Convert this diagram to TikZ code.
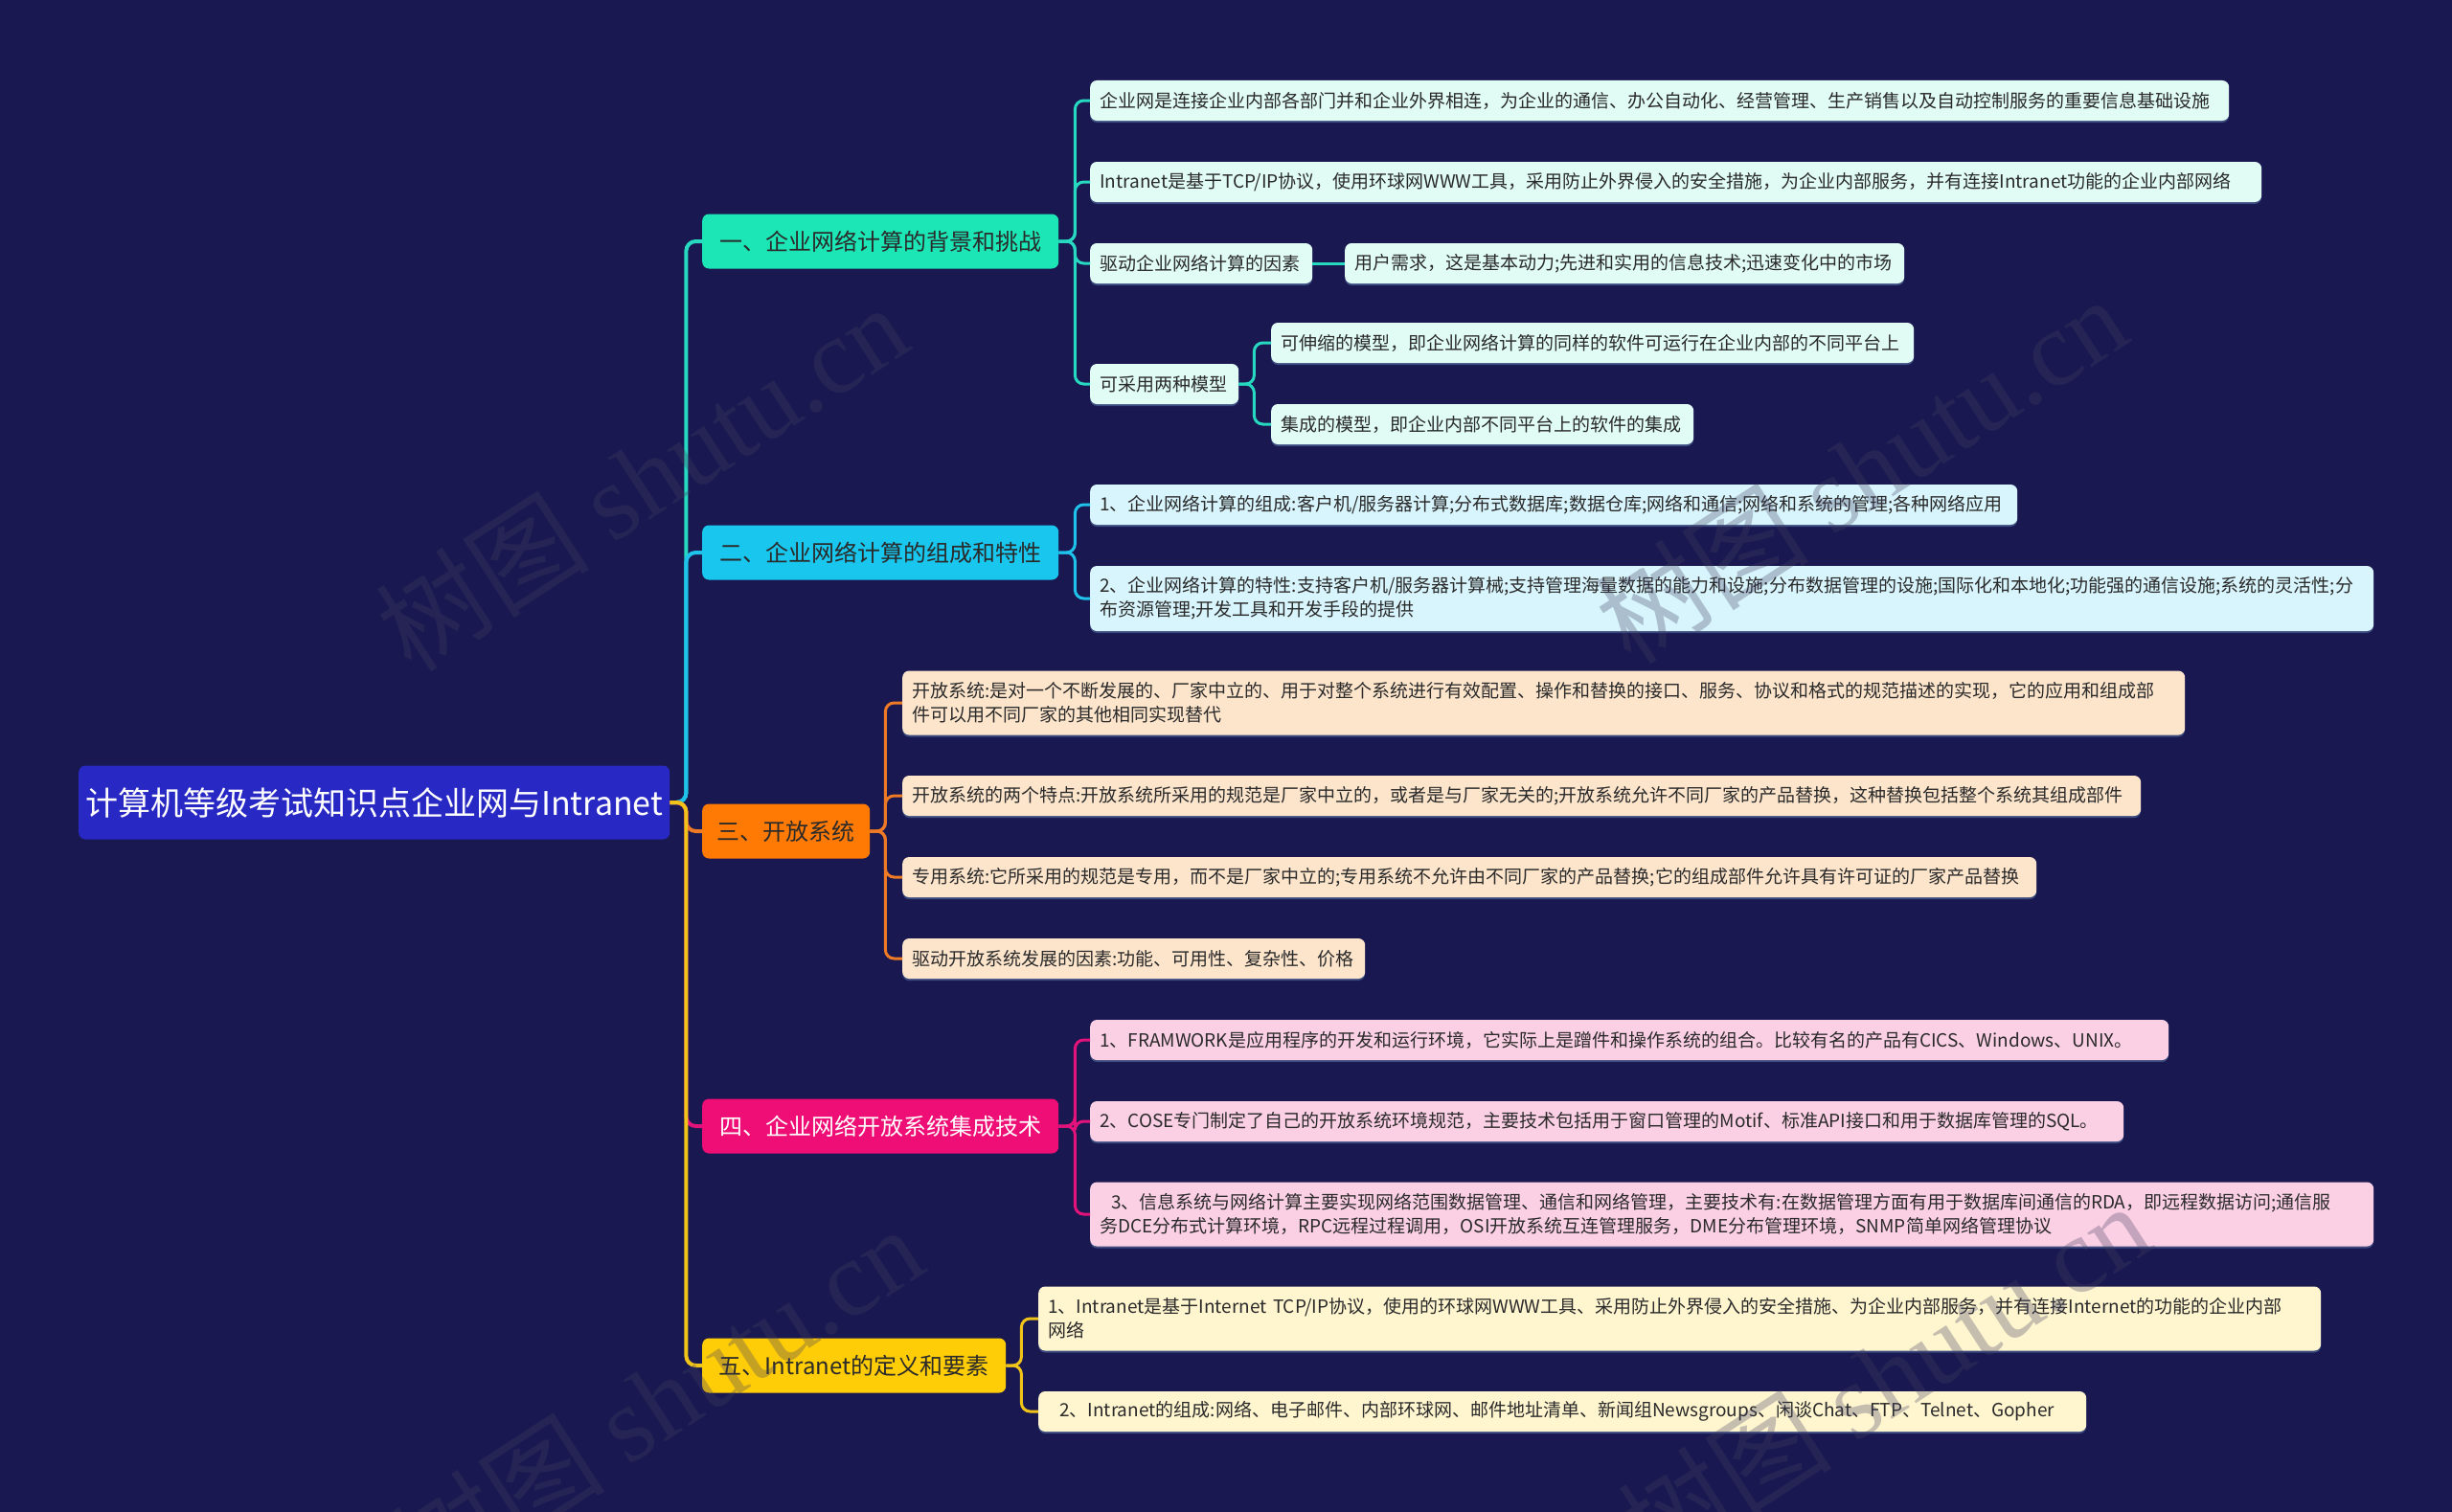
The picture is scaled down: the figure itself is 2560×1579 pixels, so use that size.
\documentclass[tikz,border=0pt]{standalone}
\usepackage{fontspec}
\setmainfont{Noto Sans CJK SC}
\newfontfamily\wmlatin{Liberation Serif}
\definecolor{bg}{HTML}{1A1850}
\definecolor{rootc}{HTML}{2828C4}
\definecolor{fa}{HTML}{1CE6B6}
\definecolor{fb}{HTML}{18C6EE}
\definecolor{fc}{HTML}{FF7A05}
\definecolor{fd}{HTML}{EE0E76}
\definecolor{fe}{HTML}{FFCC08}
\definecolor{la}{HTML}{26D9C0}
\definecolor{lb}{HTML}{1EC2EA}
\definecolor{lc}{HTML}{EE7A26}
\definecolor{ld}{HTML}{E2137A}
\definecolor{le}{HTML}{F1C41A}
\definecolor{sa}{HTML}{E0FCF5}
\definecolor{sb}{HTML}{D8F5FD}
\definecolor{sc}{HTML}{FDE5CC}
\definecolor{sd}{HTML}{FCD0E4}
\definecolor{se}{HTML}{FFF5CF}
\definecolor{txt}{HTML}{2A2A2A}
\definecolor{wmc}{HTML}{404062}
\definecolor{shd}{HTML}{3C4C80}
\begin{document}
\begin{tikzpicture}[x=1pt,y=-1pt,
  basebox/.style={rounded corners=7pt, inner ysep=0pt, anchor=west},
  rootbox/.style={basebox, fill=rootc, text=white, minimum height=77pt, minimum width=617pt,
    font=\fontsize{34}{40}\selectfont},
  lone/.style={basebox, minimum height=57pt, inner xsep=0pt, text=txt,
    font=\fontsize{24}{30}\selectfont},
  ltwo/.style={basebox, minimum height=42pt, inner xsep=10pt, text=txt, align=left,
    font=\fontsize{19}{25}\selectfont,
    preaction={fill=shd, transform canvas={yshift=-2pt}}},
  cone/.style={line width=4pt, rounded corners=10pt},
  ctwo/.style={line width=3pt, rounded corners=9pt},
  wm/.style={text=wmc, opacity=0.3, rotate=33, font=\fontsize{112}{112}\selectfont}
]
\fill[bg] (0,0) rectangle (2560,1579);
\useasboundingbox (0,0) rectangle (2560,1579);

% root
\node[rootbox] (root) at (82,838) {计算机等级考试知识点企业网与Intranet};

% level one
\node[lone, fill=fa, minimum width=372pt] (n1) at (733,252) {一、企业网络计算的背景和挑战};
\node[lone, fill=fb, minimum width=372pt] (n2) at (733,577) {二、企业网络计算的组成和特性};
\node[lone, fill=fc, minimum width=175pt] (n3) at (733,868) {三、开放系统};
\node[lone, fill=fd, minimum width=372pt, text=white] (n4) at (733,1176) {四、企业网络开放系统集成技术};
\node[lone, fill=fe, minimum width=317pt] (n5) at (733,1426) {五、Intranet的定义和要素};

% branch 1
\node[ltwo, fill=sa, text width=1169pt] (a1) at (1138,105) {企业网是连接企业内部各部门并和企业外界相连，为企业的通信、办公自动化、经营管理、生产销售以及自动控制服务的重要信息基础设施};
\node[ltwo, fill=sa, text width=1203pt] (a2) at (1138,190) {Intranet是基于TCP/IP协议，使用环球网WWW工具，采用防止外界侵入的安全措施，为企业内部服务，并有连接Intranet功能的企业内部网络};
\node[ltwo, fill=sa, text width=212pt] (a3) at (1138,275) {驱动企业网络计算的因素};
\node[ltwo, fill=sa, text width=564pt] (a3c) at (1404,275) {用户需求，这是基本动力;先进和实用的信息技术;迅速变化中的市场};
\node[ltwo, fill=sa, text width=135pt] (a4) at (1138,401) {可采用两种模型};
\node[ltwo, fill=sa, text width=651pt] (a4a) at (1327,358) {可伸缩的模型，即企业网络计算的同样的软件可运行在企业内部的不同平台上};
\node[ltwo, fill=sa, text width=421pt] (a4b) at (1327,443) {集成的模型，即企业内部不同平台上的软件的集成};

% branch 2
\node[ltwo, fill=sb, text width=948pt] (b1) at (1138,527) {1、企业网络计算的组成:客户机/服务器计算;分布式数据库;数据仓库;网络和通信;网络和系统的管理;各种网络应用};
\node[ltwo, fill=sb, text width=1320pt, minimum height=68pt] (b2) at (1138,625) {2、企业网络计算的特性:支持客户机/服务器计算械;支持管理海量数据的能力和设施;分布数据管理的设施;国际化和本地化;功能强的通信设施;系统的灵活性;分\\布资源管理;开发工具和开发手段的提供};

% branch 3
\node[ltwo, fill=sc, text width=1319pt, minimum height=67pt] (c1) at (942,734) {开放系统:是对一个不断发展的、厂家中立的、用于对整个系统进行有效配置、操作和替换的接口、服务、协议和格式的规范描述的实现，它的应用和组成部\\件可以用不同厂家的其他相同实现替代};
\node[ltwo, fill=sc, text width=1273pt] (c2) at (942,831) {开放系统的两个特点:开放系统所采用的规范是厂家中立的，或者是与厂家无关的;开放系统允许不同厂家的产品替换，这种替换包括整个系统其组成部件};
\node[ltwo, fill=sc, text width=1164pt] (c3) at (942,916) {专用系统:它所采用的规范是专用，而不是厂家中立的;专用系统不允许由不同厂家的产品替换;它的组成部件允许具有许可证的厂家产品替换};
\node[ltwo, fill=sc, text width=463pt] (c4) at (942,1001) {驱动开放系统发展的因素:功能、可用性、复杂性、价格};

% branch 4
\node[ltwo, fill=sd, text width=1106pt] (d1) at (1138,1086) {1、FRAMWORK是应用程序的开发和运行环境，它实际上是蹭件和操作系统的组合。比较有名的产品有CICS、Windows、UNIX。};
\node[ltwo, fill=sd, text width=1059pt] (d2) at (1138,1171) {2、COSE专门制定了自己的开放系统环境规范，主要技术包括用于窗口管理的Motif、标准API接口和用于数据库管理的SQL。};
\node[ltwo, fill=sd, text width=1320pt, minimum height=67pt] (d3) at (1138,1268) {\hspace*{12pt}3、信息系统与网络计算主要实现网络范围数据管理、通信和网络管理，主要技术有:在数据管理方面有用于数据库间通信的RDA，即远程数据访问;通信服\\务DCE分布式计算环境，RPC远程过程调用，OSI开放系统互连管理服务，DME分布管理环境，SNMP简单网络管理协议};

% branch 5
\node[ltwo, fill=se, text width=1319pt, minimum height=67pt] (e1) at (1084,1377) {1、Intranet是基于Internet TCP/IP协议，使用的环球网WWW工具、采用防止外界侵入的安全措施、为企业内部服务，并有连接Internet的功能的企业内部\\网络};
\node[ltwo, fill=se, text width=1074pt] (e2) at (1084,1474) {\hspace*{12pt}2、Intranet的组成:网络、电子邮件、内部环球网、邮件地址清单、新闻组Newsgroups、闲谈Chat、FTP、Telnet、Gopher};

% connectors root -> level one
\draw[cone, la] (root.east) -- ++(17,0) |- (n1.west);
\draw[cone, lb] (root.east) -- ++(17,0) |- (n2.west);
\draw[cone, lc] (root.east) -- ++(17,0) |- (n3.west);
\draw[cone, ld] (root.east) -- ++(17,0) |- (n4.west);
\draw[cone, le] (root.east) -- ++(17,0) |- (n5.west);

% branch 1
\foreach \t in {a1,a2,a3,a4} \draw[ctwo, la] (n1.east) -- ++(17,0) |- (\t.west);
\draw[ctwo, la] (a3.east) -- (a3c.west);
\foreach \t in {a4a,a4b} \draw[ctwo, la] (a4.east) -- ++(16,0) |- (\t.west);
% branch 2
\foreach \t in {b1,b2} \draw[ctwo, lb] (n2.east) -- ++(17,0) |- (\t.west);
% branch 3
\foreach \t in {c1,c2,c3,c4} \draw[ctwo, lc] (n3.east) -- ++(16,0) |- (\t.west);
% branch 4
\foreach \t in {d1,d2,d3} \draw[ctwo, ld] (n4.east) -- ++(17,0) |- (\t.west);
% branch 5
\foreach \t in {e1,e2} \draw[ctwo, le] (n5.east) -- ++(16,0) |- (\t.west);

% watermarks
\node[wm] (w1) at (670,498) {树图 {\wmlatin shutu.cn}};
\node[wm] (w2) at (1943,490) {树图 {\wmlatin shutu.cn}};
\node[wm] (w3) at (686,1461) {树图 {\wmlatin shutu.cn}};
\node[wm] (w4) at (1967,1437) {树图 {\wmlatin shutu.cn}};
\end{tikzpicture}
\end{document}
